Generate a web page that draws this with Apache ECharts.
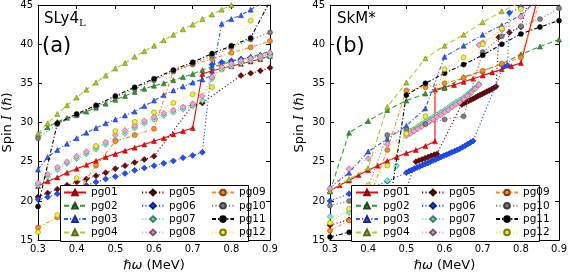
<!DOCTYPE html>
<html><head><meta charset="utf-8">
<script src="https://cdn.jsdelivr.net/npm/echarts@6/dist/echarts.min.js"></script>
<style>html,body{margin:0;padding:0;background:#fff}#c{width:570px;height:277px}</style>
</head><body><div id="c"></div>
<script>
const xTicks = [0.3,0.4,0.5,0.6,0.7,0.8,0.9];
const yTicks = [15,20,25,30,35,40,45];
const names = ['pg01','pg02','pg03','pg04','pg05','pg06','pg07','pg08','pg09','pg10','pg11','pg12'];

// Panel (a) SLy4_L : [hbar omega, spin]
const a_pg01 = [[0.3,21.9],[0.325,22.5],[0.35,23.0],[0.375,23.6],[0.4,24.1],[0.425,24.6],[0.45,25.1],[0.475,25.6],[0.5,26.0],[0.525,26.4],[0.55,26.8],[0.575,27.2],[0.6,27.65],[0.625,28.0],[0.65,28.5],[0.675,28.9],[0.7,29.3],[0.725,36.2],[0.75,36.6],[0.775,36.9],[0.8,37.2],[0.825,37.5],[0.85,37.8],[0.875,38.1],[0.9,38.5]];
const a_pg02 = [[0.3,28.4],[0.325,29.4],[0.35,30.1],[0.375,30.6],[0.4,31.0],[0.425,31.4],[0.45,31.9],[0.475,32.4],[0.5,32.9],[0.525,33.4],[0.55,33.9],[0.575,34.3],[0.6,34.7],[0.625,35.0],[0.65,35.4],[0.675,35.8],[0.7,36.2],[0.725,36.7],[0.75,37.1],[0.775,37.4],[0.8,37.8],[0.825,38.1],[0.85,38.4],[0.875,38.7],[0.9,39.1]];
const a_pg03 = [[0.3,24.0],[0.325,25.6],[0.35,26.5],[0.375,27.3],[0.4,28.0],[0.425,28.7],[0.45,29.3],[0.475,29.9],[0.5,30.4],[0.525,30.9],[0.55,31.4],[0.575,32.1],[0.6,32.8],[0.625,33.5],[0.65,34.1],[0.675,34.6],[0.7,35.1],[0.725,35.5],[0.75,36.0],[0.775,42.6],[0.8,43.2],[0.825,43.7],[0.85,44.4],[0.875,45.2]];
const a_pg04 = [[0.3,28.6],[0.325,29.9],[0.35,31.1],[0.375,32.2],[0.4,33.2],[0.425,34.2],[0.45,35.1],[0.475,36.0],[0.5,36.9],[0.525,37.6],[0.55,38.4],[0.575,39.1],[0.6,39.8],[0.625,40.5],[0.65,41.2],[0.675,41.9],[0.7,42.5],[0.725,43.2],[0.75,43.8],[0.775,44.4],[0.8,45.0]];
const a_pg05 = [[0.3,20.5],[0.325,21.0],[0.35,21.5],[0.375,22.0],[0.4,22.4],[0.425,22.8],[0.45,23.2],[0.475,23.6],[0.5,24.1],[0.525,24.5],[0.55,24.9],[0.575,25.3],[0.6,25.7],[0.7,32.2],[0.725,32.5],[0.825,36.0],[0.85,36.3],[0.875,36.6],[0.9,37.0]];
const a_pg06 = [[0.3,20.2],[0.325,20.5],[0.35,20.9],[0.375,21.3],[0.4,21.6],[0.425,22.0],[0.45,22.4],[0.475,22.8],[0.5,23.1],[0.525,23.5],[0.55,23.9],[0.575,24.2],[0.6,24.5],[0.625,24.8],[0.65,25.1],[0.675,25.5],[0.7,25.8],[0.725,26.2],[0.75,37.4],[0.775,37.7],[0.8,37.9],[0.825,38.1],[0.85,38.3],[0.875,38.5],[0.9,38.7]];
const a_pg07 = [[0.3,22.0],[0.325,23.1],[0.35,24.0],[0.375,24.8],[0.4,25.4],[0.425,26.0],[0.45,26.6],[0.475,27.2],[0.5,27.8],[0.525,28.6],[0.55,29.3],[0.575,29.9],[0.6,30.4],[0.625,30.9],[0.65,31.3],[0.675,31.7],[0.7,32.1],[0.725,32.8],[0.75,35.6],[0.775,36.8],[0.8,37.2],[0.825,37.6],[0.85,37.9],[0.875,38.2],[0.9,38.5]];
const a_pg08 = [[0.3,22.3],[0.325,23.4],[0.35,24.3],[0.375,25.0],[0.4,25.7],[0.425,26.3],[0.45,26.9],[0.475,27.5],[0.5,28.4],[0.525,29.0],[0.55,29.6],[0.575,30.2],[0.6,30.7],[0.625,31.2],[0.65,31.6],[0.675,32.0],[0.7,32.4],[0.725,33.4],[0.75,35.8],[0.775,37.1],[0.8,37.5],[0.825,37.9],[0.85,38.2],[0.875,38.5],[0.9,38.9]];
const a_pg09 = [[0.3,16.6],[0.35,17.9],[0.4,21.0],[0.45,24.5],[0.5,27.6],[0.55,28.4],[0.6,29.2],[0.65,36.6],[0.7,37.4],[0.75,38.1],[0.8,38.9],[0.85,39.6],[0.9,40.4]];
const a_pg10 = [[0.3,28.0],[0.35,29.8],[0.4,30.9],[0.45,32.0],[0.5,33.2],[0.55,34.3],[0.6,35.4],[0.65,36.5],[0.7,37.5],[0.75,38.5],[0.8,39.6],[0.85,40.6],[0.9,41.5]];
const a_pg11 = [[0.3,19.3],[0.35,29.9],[0.4,31.1],[0.45,32.2],[0.5,33.4],[0.55,34.5],[0.6,35.6],[0.65,36.7],[0.7,37.7],[0.75,38.8],[0.8,39.8],[0.85,40.8],[0.9,45.5]];
const a_pg12 = [[0.3,16.0],[0.35,18.2],[0.4,22.9],[0.45,27.0],[0.5,28.9],[0.55,30.1],[0.6,31.3],[0.65,32.5],[0.7,33.6],[0.75,34.5],[0.85,43.0],[0.9,47.0]];

// Panel (b) SkM*
const b_pg01 = [[0.3,21.3],[0.325,22.0],[0.35,22.6],[0.375,23.3],[0.4,23.9],[0.425,24.5],[0.45,25.1],[0.475,25.6],[0.5,26.1],[0.525,26.5],[0.55,27.0],[0.575,27.6],[0.575,34.2],[0.6,34.5],[0.625,34.8],[0.65,35.2],[0.675,35.6],[0.7,36.0],[0.725,36.4],[0.75,36.8],[0.775,37.2],[0.8,37.6],[0.85,47.0]];
const b_pg02 = [[0.3,21.2],[0.35,28.7],[0.4,30.2],[0.45,31.6],[0.5,32.8],[0.55,33.7],[0.6,34.4],[0.65,35.8],[0.7,36.6],[0.75,37.5],[0.8,38.7],[0.85,39.7],[0.9,40.6]];
const b_pg03 = [[0.3,21.7],[0.35,23.6],[0.4,26.3],[0.45,27.9],[0.5,29.6],[0.55,31.8],[0.6,38.4],[0.65,39.8],[0.7,41.2],[0.75,42.4],[0.8,43.7],[0.85,46.0]];
const b_pg04 = [[0.3,21.3],[0.35,22.8],[0.4,24.2],[0.45,32.0],[0.5,35.1],[0.55,38.2],[0.6,39.8],[0.65,41.2],[0.7,42.8],[0.75,44.2],[0.8,45.3]];
const b_pg05 = [[0.3,16.9],[0.35,17.6],[0.4,18.5],[0.45,19.8],[0.5,21.5],[0.525,25.0],[0.533,25.15],[0.541,25.3],[0.549,25.45],[0.557,25.6],[0.565,25.75],[0.573,25.9],[0.58,26.0],[0.645,32.3],[0.651,32.45],[0.657,32.6],[0.663,32.75],[0.669,32.9],[0.675,33.05],[0.681,33.2],[0.687,33.35],[0.693,33.5],[0.699,33.65],[0.705,33.8],[0.711,33.95],[0.717,34.1],[0.723,34.25],[0.729,34.4],[0.735,34.6],[0.742,40.9],[0.77,41.5],[0.8,42.2],[0.82,45.5]];
const b_pg06 = [[0.3,20.0],[0.35,20.9],[0.4,21.6],[0.45,22.5],[0.5,23.6],[0.507,23.8],[0.514,23.95],[0.521,24.1],[0.528,24.25],[0.535,24.4],[0.542,24.55],[0.549,24.7],[0.556,24.85],[0.563,25.0],[0.57,25.15],[0.577,25.3],[0.584,25.45],[0.591,25.6],[0.598,25.75],[0.605,25.9],[0.612,26.05],[0.619,26.2],[0.626,26.35],[0.633,26.5],[0.64,26.65],[0.647,26.85],[0.654,27.05],[0.661,27.25],[0.668,27.45],[0.675,27.65],[0.755,37.2],[0.765,37.3],[0.77,44.0],[0.8,44.7],[0.83,45.5]];
const b_pg07 = [[0.3,18.0],[0.35,18.5],[0.4,20.0],[0.45,22.6],[0.475,24.5],[0.5,28.6],[0.51,28.9],[0.52,29.2],[0.53,29.5],[0.54,29.8],[0.55,30.1],[0.56,30.4],[0.57,30.7],[0.58,31.0],[0.59,31.3],[0.6,31.6],[0.61,31.9],[0.62,32.3],[0.63,32.6],[0.64,32.9],[0.65,33.2],[0.66,33.6],[0.67,34.0],[0.68,34.4],[0.69,34.9]];
const b_pg08 = [[0.3,21.6],[0.35,24.1],[0.4,25.4],[0.45,27.2],[0.5,28.3],[0.51,28.6],[0.52,28.9],[0.53,29.2],[0.54,29.5],[0.55,29.8],[0.56,30.1],[0.57,30.4],[0.58,30.7],[0.59,31.0],[0.6,31.3],[0.61,31.6],[0.62,32.0],[0.63,32.3],[0.64,32.6],[0.65,33.0],[0.66,33.4],[0.67,33.8],[0.68,34.3],[0.69,34.8],[0.69,39.9],[0.7,40.2],[0.75,41.8],[0.8,43.5],[0.85,46.0]];
const b_pg09 = [[0.3,16.2],[0.35,17.5],[0.4,20.0],[0.45,26.5],[0.5,34.1],[0.55,34.5],[0.6,35.0],[0.65,35.7],[0.7,36.6],[0.75,37.5],[0.8,38.3],[0.85,45.5]];
const b_pg10 = [[0.3,19.4],[0.35,20.0],[0.4,21.8],[0.45,28.4],[0.5,29.1],[0.55,29.8],[0.6,30.4],[0.65,30.8],[0.7,39.0],[0.75,41.0],[0.8,42.3],[0.85,43.2],[0.9,44.6]];
const b_pg11 = [[0.3,15.4],[0.35,16.0],[0.4,16.3],[0.45,17.5],[0.5,33.5],[0.55,35.0],[0.6,36.3],[0.65,37.4],[0.7,38.6],[0.75,40.0],[0.8,41.3],[0.85,42.2],[0.9,43.0]];
const b_pg12 = [[0.3,17.2],[0.35,19.0],[0.4,22.0],[0.45,24.5],[0.5,28.6],[0.55,30.8],[0.6,36.8],[0.65,38.3],[0.7,40.0],[0.75,42.0],[0.8,44.5]];

const panelA = [a_pg01,a_pg02,a_pg03,a_pg04,a_pg05,a_pg06,a_pg07,a_pg08,a_pg09,a_pg10,a_pg11,a_pg12];
const panelB = [b_pg01,b_pg02,b_pg03,b_pg04,b_pg05,b_pg06,b_pg07,b_pg08,b_pg09,b_pg10,b_pg11,b_pg12];

const DOT=[1.2,2.2], DASH=[5,3], DASHDOT=[4,2,1.2,2];
const styles = [
  {color:'#ff0000', edge:'#801010', line:'solid', sym:'triangle', size:5},
  {color:'#339933', edge:'#1a4d1a', line:DASH, sym:'triangle', size:5},
  {color:'#2a5cff', edge:'#1a2a80', line:DASHDOT, sym:'triangle', size:5},
  {color:'#a8d020', edge:'#556b10', line:DASH, sym:'triangle', size:5},
  {color:'#6b0a0a', edge:'#300000', line:DOT, sym:'diamond', size:6},
  {color:'#1f50ff', edge:'#0a1f80', line:DOT, sym:'diamond', size:6},
  {color:'#70f0c8', edge:'#3a7a66', line:DOT, sym:'diamond', size:6},
  {color:'#f5a0cc', edge:'#7a5066', line:DOT, sym:'diamond', size:6},
  {color:'#ff8a1f', edge:'#804510', line:DASHDOT, sym:'circle', size:5},
  {color:'#808080', edge:'#404040', line:DOT, sym:'circle', size:5},
  {color:'#000000', edge:'#000000', line:DASHDOT, sym:'circle', size:5},
  {color:'#f0f030', edge:'#7a7a18', line:DOT, sym:'circle', size:5}
];

const grids = [
  {left:38, top:4, width:232, height:241},
  {left:330, top:4, width:233, height:241}
];
const font = 'DejaVu Sans';
function xAx(i){return {type:'value', gridIndex:i, min:0.3, max:0.9, interval:0.1,
  axisLine:{lineStyle:{color:'#000',width:1}}, axisTick:{inside:true,length:4,lineStyle:{color:'#000'}},
  axisLabel:{color:'#000',fontSize:10,fontFamily:font,margin:4,formatter:v=>v.toFixed(1)},
  splitLine:{show:false},
  name:'{h|ℏω} (MeV)', nameLocation:'middle', nameGap:18,
  nameTextStyle:{fontSize:13,fontFamily:font,color:'#000',rich:{h:{fontSize:13,fontStyle:'italic',fontFamily:font}}}};}
function xAxTop(i){return {type:'value', gridIndex:i, position:'top', min:0.3, max:0.9, interval:0.1,
  axisLine:{lineStyle:{color:'#000'}}, axisTick:{inside:true,length:4,lineStyle:{color:'#000'}},
  axisLabel:{show:false}, splitLine:{show:false}};}
function yAx(i){return {type:'value', gridIndex:i, min:15, max:45, interval:5,
  axisLine:{lineStyle:{color:'#000'}}, axisTick:{inside:true,length:4,lineStyle:{color:'#000'}},
  axisLabel:{color:'#000',fontSize:10,fontFamily:font,margin:5},
  splitLine:{show:false},
  name:'Spin {i|I} (ℏ)', nameLocation:'middle', nameGap:24, nameRotate:90,
  nameTextStyle:{fontSize:13,fontFamily:font,color:'#000',rich:{i:{fontSize:13,fontStyle:'italic',fontFamily:'DejaVu Serif'}}}};}
function yAxRight(i){return {type:'value', gridIndex:i, position:'right', min:15, max:45, interval:5,
  axisLine:{lineStyle:{color:'#000'}}, axisTick:{inside:true,length:4,lineStyle:{color:'#000'}},
  axisLabel:{show:false}, splitLine:{show:false}};}

const xAxis=[xAx(0),xAx(1),xAxTop(0),xAxTop(1)];
const yAxis=[yAx(0),yAx(1),yAxRight(0),yAxRight(1)];

const series=[];
[panelA,panelB].forEach((panel,p)=>{
  panel.forEach((data,k)=>{
    const s=styles[k];
    series.push({name:names[k], type:'line', xAxisIndex:p, yAxisIndex:p, data:data,
      symbol:s.sym, symbolSize:s.size, showSymbol:true, clip:true, animation:false,
      lineStyle:{color:s.color, width:1.1, type:s.line},
      itemStyle:{color:s.color, borderColor:s.edge, borderWidth:0.5},
      z:2+k});
  });
});

function legendCol(leftPx, items){
  return {data:items, orient:'vertical', left:leftPx, top:186, itemWidth:22, itemHeight:7, itemGap:0.3,
    textStyle:{fontSize:10.5,fontFamily:font,color:'#000',lineHeight:13,height:13},
    selectedMode:false, padding:0, z:100, zlevel:1};
}
const legend=[
  legendCol(63,['pg01','pg02','pg03','pg04']),
  legendCol(141,['pg05','pg06','pg07','pg08']),
  legendCol(211,['pg09','pg10','pg11','pg12']),
  legendCol(355,['pg01','pg02','pg03','pg04']),
  legendCol(421,['pg05','pg06','pg07','pg08']),
  legendCol(495,['pg09','pg10','pg11','pg12'])
];

const graphic=[
  {type:'rect', shape:{x:60.5,y:185.5,width:188,height:56}, style:{fill:'#fff',stroke:'#000',lineWidth:1}, z:50},
  {type:'rect', shape:{x:351.5,y:185.5,width:188,height:56}, style:{fill:'#fff',stroke:'#000',lineWidth:1}, z:50},
  {type:'text', left:44, top:12, z:60, style:{text:'{a|SLy4}{b|L}', rich:{a:{fontSize:15,fontFamily:font,fill:'#000'},b:{fontSize:10,fontFamily:'DejaVu Serif',fill:'#000',padding:[8,0,0,0]}}}},
  {type:'text', left:42, top:36, z:60, style:{text:'(a)', fontSize:21, fontFamily:font, fill:'#000'}},
  {type:'text', left:337, top:12, z:60, style:{text:'SkM*', fontSize:15, fontFamily:font, fill:'#000'}},
  {type:'text', left:335, top:36, z:60, style:{text:'(b)', fontSize:21, fontFamily:font, fill:'#000'}}
];

const chart=echarts.init(document.getElementById('c'),null,{renderer:'canvas'});
chart.setOption({animation:false, backgroundColor:'#fff', grid:grids, xAxis, yAxis, series, legend, graphic});
</script></body></html>
